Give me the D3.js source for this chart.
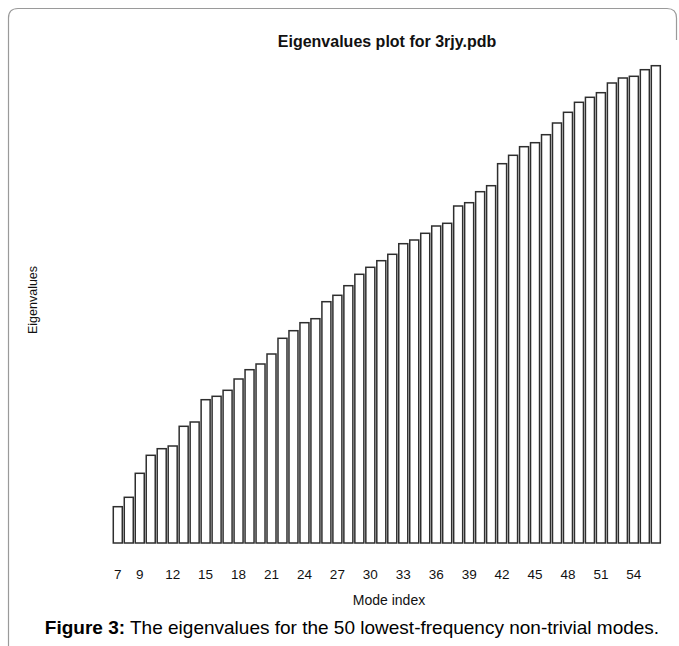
<!DOCTYPE html>
<html>
<head>
<meta charset="utf-8">
<script src="https://cdn.jsdelivr.net/npm/d3@7/dist/d3.min.js"></script>
<style>
  html, body { margin: 0; padding: 0; background: #fff; }
  svg { display: block; font-family: "Liberation Sans", Arial, sans-serif; }
</style>
</head>
<body>
<svg id="chart" width="679" height="646"></svg>
<script>
// Mode indices (non-trivial modes 7..56)
const modes = [7, 8, 9, 10, 11, 12, 13, 14, 15, 16, 17, 18, 19, 20, 21, 22, 23, 24, 25, 26,
  27, 28, 29, 30, 31, 32, 33, 34, 35, 36, 37, 38, 39, 40, 41, 42, 43, 44, 45, 46,
  47, 48, 49, 50, 51, 52, 53, 54, 55, 56];

// Eigenvalue per mode (arbitrary units)
const eigenvalues = [3.63, 4.57, 6.97, 8.77, 9.43, 9.70, 11.67, 12.10, 14.33, 14.67,
  15.27, 16.40, 17.33, 17.90, 18.90, 20.47, 21.23, 22.03, 22.43, 24.13,
  24.77, 25.73, 26.87, 27.57, 28.23, 28.87, 29.93, 30.30, 30.97, 31.70,
  31.97, 33.70, 34.03, 35.13, 35.73, 37.93, 38.77, 39.63, 40.03, 40.83,
  42.00, 43.07, 44.07, 44.57, 45.03, 46.00, 46.50, 46.67, 47.33, 47.73];

// Modes that carry a tick label
const tickLabels = [7, 9, 12, 15, 18, 21, 24, 27, 30, 33, 36, 39, 42, 45, 48, 51, 54];

const titleText = "Eigenvalues plot for 3rjy.pdb";
const xTitle = "Mode index";
const yTitle = "Eigenvalues";
const captionBold = "Figure 3:";
const captionText = " The eigenvalues for the 50 lowest-frequency non-trivial modes.";

const svg = d3.select("#chart");

// Rounded frame (left and top edges visible)
svg.append("path")
  .attr("d", "M8.5,646 L8.5,18 Q8.5,8.5 18,8.5 L667,8.5 Q676.5,8.5 676.5,18 L676.5,40")
  .attr("fill", "none")
  .attr("stroke", "#9a9a9a")
  .attr("stroke-width", 1.2);

const x = d3.scaleBand()
  .domain(modes)
  .range([112.3, 661.3])
  .paddingInner(0.18)
  .paddingOuter(0.09);

const y = d3.scaleLinear()
  .domain([0, 48])
  .range([543, 63]);

// Bars
svg.append("g")
  .selectAll("rect")
  .data(modes.map((m, i) => ({ mode: m, value: eigenvalues[i] })))
  .join("rect")
  .attr("x", d => x(d.mode))
  .attr("y", d => y(d.value))
  .attr("width", x.bandwidth())
  .attr("height", d => y(0) - y(d.value))
  .attr("fill", "#fff")
  .attr("stroke", "#2e2e2e")
  .attr("stroke-width", 1.5);

// Bottom axis with labels only
const xAxis = d3.axisBottom(x)
  .tickValues(tickLabels)
  .tickSize(0)
  .tickPadding(0);

const gx = svg.append("g")
  .attr("transform", "translate(0,569)")
  .call(xAxis);
gx.select(".domain").remove();
gx.selectAll("text")
  .attr("dy", "0.71em")
  .attr("fill", "#111")
  .style("font-size", "13.5px")
  .style("font-family", "'Liberation Sans', Arial, sans-serif");

// Title
svg.append("text")
  .attr("x", 387)
  .attr("y", 47)
  .attr("text-anchor", "middle")
  .style("font-size", "16px")
  .style("font-weight", "bold")
  .attr("fill", "#111")
  .text(titleText);

// Axis titles
svg.append("text")
  .attr("x", 389)
  .attr("y", 605)
  .attr("text-anchor", "middle")
  .style("font-size", "14px")
  .attr("fill", "#111")
  .text(xTitle);

svg.append("text")
  .attr("transform", "translate(37,300) rotate(-90)")
  .attr("text-anchor", "middle")
  .style("font-size", "12.5px")
  .attr("fill", "#111")
  .text(yTitle);

// Caption
const cap = svg.append("text")
  .attr("x", 352)
  .attr("y", 634)
  .attr("text-anchor", "middle")
  .style("font-size", "19px")
  .attr("fill", "#000");
cap.append("tspan").style("font-weight", "bold").text(captionBold);
cap.append("tspan").text(captionText);
</script>
</body>
</html>
